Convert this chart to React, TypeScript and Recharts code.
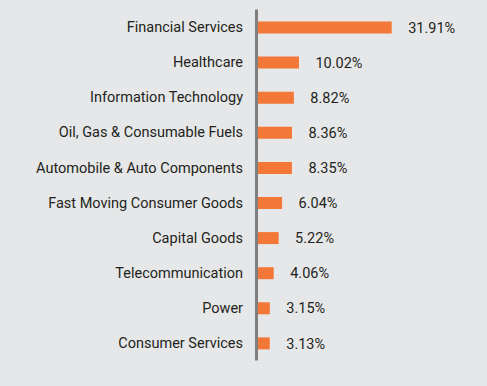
import { BarChart, Bar, XAxis, YAxis, LabelList } from 'recharts'

const sectors = [
  'Financial Services',
  'Healthcare',
  'Information Technology',
  'Oil, Gas & Consumable Fuels',
  'Automobile & Auto Components',
  'Fast Moving Consumer Goods',
  'Capital Goods',
  'Telecommunication',
  'Power',
  'Consumer Services',
]

const weights = [31.91, 10.02, 8.82, 8.36, 8.35, 6.04, 5.22, 4.06, 3.15, 3.13]

const data = sectors.map((sector, i) => ({ sector, weight: weights[i] }))

const textColor = '#231f20'

export default function App() {
  return (
    <div
      style={{
        position: 'absolute',
        left: 0,
        top: 0,
        width: 487,
        height: 386,
        background: '#e6e7e8',
        fontFamily: 'Roboto, sans-serif',
      }}
    >
      <BarChart
        width={487}
        height={386}
        data={data}
        layout="vertical"
        margin={{ top: 9.5, right: 61, left: 0, bottom: 25.5 }}
      >
        <XAxis type="number" domain={[0, 40]} hide />
        <YAxis
          type="category"
          dataKey="sector"
          width={256.5}
          axisLine={{ stroke: '#7f7f7f', strokeWidth: 3 }}
          tickLine={false}
          tickSize={0}
          tickMargin={13.5}
          tick={{ fontSize: 14.5, fill: textColor }}
          interval={0}
        />
        <Bar dataKey="weight" fill="#f37736" barSize={12} isAnimationActive={false}>
          <LabelList
            dataKey="weight"
            position="right"
            offset={16.5}
            formatter={(v: number) => `${v.toFixed(2)}%`}
            style={{ fontSize: 14.5, fill: textColor }}
          />
        </Bar>
      </BarChart>
    </div>
  )
}
